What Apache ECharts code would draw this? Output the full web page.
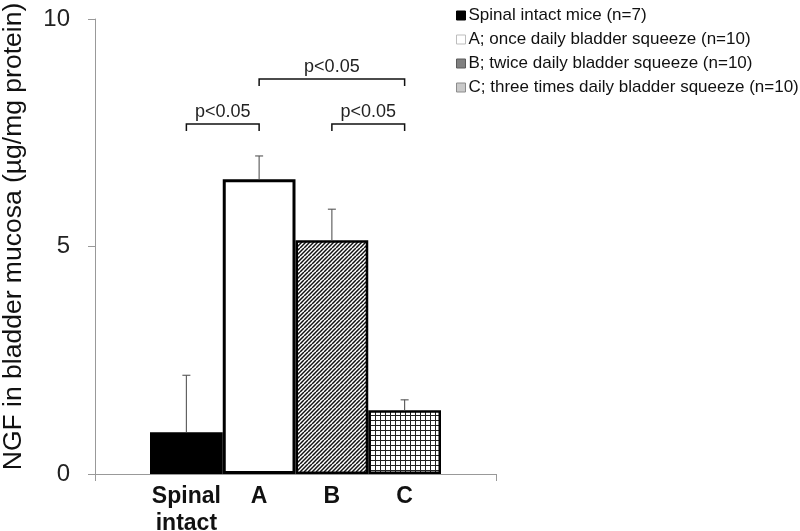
<!DOCTYPE html>
<html><head><meta charset="utf-8">
<script src="https://cdn.jsdelivr.net/npm/echarts@6/dist/echarts.min.js"></script>
<style>html,body{margin:0;padding:0;background:#fff}#c{width:800px;height:531px}</style>
</head><body><div id="c"></div>
<script>
// ---- data ----
var categories = ['Spinal\nintact', 'A', 'B', 'C'];
var seriesNames = ['Spinal intact mice (n=7)', 'A; once daily bladder squeeze (n=10)', 'B; twice daily bladder squeeze (n=10)', 'C; three times daily bladder squeeze (n=10)'];
var means = [0.92, 6.48, 5.14, 1.40];
var errorTops = [2.17, 6.99, 5.82, 1.63];
var bracketFrom = [0, 1, 2];
var bracketTo = [1, 3, 3];
var bracketLevel = [7.69, 8.68, 7.69];
var bracketText = ['p<0.05', 'p<0.05', 'p<0.05'];
var yMin = 0, yMax = 10, yStep = 5;

// ---- patterns ----
function hatch() {
  var c = document.createElement('canvas'); c.width = 8; c.height = 8;
  var g = c.getContext('2d'); g.fillStyle = '#fff'; g.fillRect(0, 0, 8, 8);
  g.strokeStyle = '#111'; g.lineWidth = 1.5;
  for (var x = -8; x <= 16; x += 4) { g.beginPath(); g.moveTo(x, 8); g.lineTo(x + 8, 0); g.stroke(); }
  return c;
}
function grid() {
  var c = document.createElement('canvas'); c.width = 5; c.height = 5;
  var g = c.getContext('2d'); g.fillStyle = '#fff'; g.fillRect(0, 0, 5, 5);
  g.fillStyle = '#222'; g.fillRect(0, 0, 1, 5); g.fillRect(0, 0, 5, 1);
  return c;
}
var fills = ['#000', '#fff', { image: hatch(), repeat: 'repeat' }, { image: grid(), repeat: 'repeat' }];
var borders = [3, 3, 2.5, 2.5];
var legendFill = ['#000', '#fff', '#808080', '#c9c9c9'];
var legendBorder = ['#000', '#bdbdbd', '#5a5a5a', '#8c8c8c'];
var FONT = 'Liberation Sans, Arial, sans-serif';

var barSeries = seriesNames.map(function (n, i) {
  return {
    name: n, type: 'bar', xAxisIndex: 1, yAxisIndex: 1,
    barWidth: '100%', barGap: '-100%',
    data: categories.map(function (c, j) { return j === i ? means[j] : '-'; }),
    itemStyle: { color: fills[i], borderColor: '#000', borderWidth: borders[i] },
    z: 2
  };
});

var errData = categories.map(function (c, i) { return [i, means[i], errorTops[i]]; });
var brData = bracketFrom.map(function (f, i) { return [f, bracketTo[i], bracketLevel[i], bracketText[i]]; });

var chart = echarts.init(document.getElementById('c'));
chart.setOption({
  animation: false,
  textStyle: { fontFamily: FONT },
  grid: [
    { left: 95, right: 304, top: 19, bottom: 57, containLabel: false, outerBoundsMode: 'none' },
    { left: 150, right: 359, top: 19, bottom: 57, containLabel: false, outerBoundsMode: 'none' }
  ],
  legend: {
    orient: 'vertical', left: 451, top: 2, itemWidth: 9, itemHeight: 9, itemGap: 7,
    textStyle: { fontSize: 17, color: '#111', padding: [0, 0, 0, -2] },
    data: seriesNames.map(function (n, i) {
      return { name: n, icon: 'rect', itemStyle: { color: legendFill[i], borderColor: legendBorder[i], borderWidth: 1 } };
    }),
    selectedMode: false
  },
  xAxis: [
    { type: 'category', gridIndex: 0, data: [''], boundaryGap: true,
      axisLine: { lineStyle: { color: '#999', width: 1 } },
      axisTick: { show: true, length: 7, lineStyle: { color: '#999' } },
      axisLabel: { show: false } },
    { type: 'category', gridIndex: 1, data: categories,
      axisLine: { show: false }, axisTick: { show: false },
      axisLabel: { fontSize: 23, fontWeight: 'bold', color: '#111', margin: 9, lineHeight: 27, interval: 0, hideOverlap: false } }
  ],
  yAxis: [
    { type: 'value', gridIndex: 0, min: yMin, max: yMax, interval: yStep,
      name: 'NGF in bladder mucosa (µg/mg protein)', nameLocation: 'middle', nameGap: 68,
      nameTextStyle: { fontSize: 26.5, color: '#111', padding: [0, 0, 0, 20] },
      axisLine: { show: true, lineStyle: { color: '#999', width: 1 } },
      axisTick: { show: true, length: 7, lineStyle: { color: '#999' } },
      axisLabel: { fontSize: 24, color: '#222', margin: 25 },
      splitLine: { show: false } },
    { type: 'value', gridIndex: 1, min: yMin, max: yMax, interval: yStep, show: false, splitLine: { show: false } }
  ],
  series: barSeries.concat([
    {
      type: 'custom', xAxisIndex: 1, yAxisIndex: 1, z: 3, data: errData,
      renderItem: function (params, api) {
        var b = api.coord([api.value(0), api.value(1)]);
        var t = api.coord([api.value(0), api.value(2)]);
        var st = { stroke: '#555', lineWidth: 1.1 };
        return { type: 'group', children: [
          { type: 'line', shape: { x1: b[0], y1: b[1], x2: t[0], y2: t[1] }, style: st },
          { type: 'line', shape: { x1: t[0] - 4, y1: t[1], x2: t[0] + 4, y2: t[1] }, style: st }
        ] };
      }
    },
    {
      type: 'custom', xAxisIndex: 1, yAxisIndex: 1, z: 3, data: brData,
      renderItem: function (params, api) {
        var a = api.coord([api.value(0), api.value(2)]);
        var b = api.coord([api.value(1), api.value(2)]);
        var st = { stroke: '#111', lineWidth: 1.5, fill: null };
        return { type: 'group', children: [
          { type: 'polyline', shape: { points: [[a[0], a[1] + 7], [a[0], a[1]], [b[0], b[1]], [b[0], b[1] + 7]] }, style: st },
          { type: 'text', style: { text: brData[params.dataIndex][3], x: (a[0] + b[0]) / 2, y: a[1] - 3,
            align: 'center', verticalAlign: 'bottom', fontSize: 18, fill: '#222', fontFamily: FONT } }
        ] };
      }
    }
  ])
});
</script></body></html>
